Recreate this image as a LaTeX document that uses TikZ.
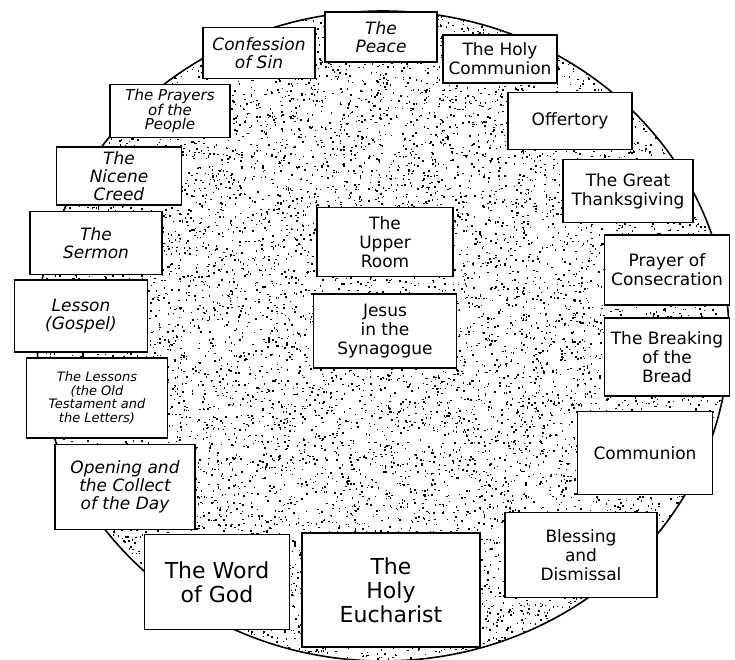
\documentclass[tikz,border=0pt]{standalone}
\usepackage{fontspec}
\setmainfont{DejaVu Sans}
\usetikzlibrary{positioning}

\begin{document}
\begin{tikzpicture}[x=1pt, y=-1pt]

% Define styles
\tikzstyle{card} = [rectangle, draw=black, fill=white, line width=1.6pt, align=center, inner sep=2pt, font=\fontsize{17}{19}\selectfont]
\tikzstyle{slanted} = [font=\fontsize{17}{18}\selectfont\itshape]
\tikzstyle{small} = [font=\fontsize{13}{13.5}\selectfont\itshape]
\tikzstyle{big} = [font=\fontsize{22}{24}\selectfont]

\useasboundingbox (0,0) rectangle (735,660);

% Stippled disc
\begin{scope}
\clip (0,0) rectangle (735,660);
\path[clip] (383,336) ellipse [x radius=346pt, y radius=325pt];
\pgfmathsetseed{42}
\foreach \i in {1,...,13000} {\fill ({383+346*rand},{336+325*rand}) rectangle ++(1.5,1.5);}
\end{scope}
\draw[line width=1.6pt] (383,336) ellipse [x radius=346pt, y radius=325pt];

% The Holy Communion side (right)
\node[card, slanted, minimum width=112, minimum height=50] (peace) at (381,37) {The\\Peace};
\node[card, minimum width=114, minimum height=48] (holycomm) at (500,59) {The Holy\\Communion};
\node[card, minimum width=124, minimum height=57] (offertory) at (570,121) {Offertory};
\node[card, minimum width=130, minimum height=63] (thanks) at (628,191) {The Great\\Thanksgiving};
\node[card, minimum width=125, minimum height=70] (consecration) at (667,270) {Prayer of\\Consecration};
\node[card, minimum width=125, minimum height=78] (breaking) at (667,357) {The Breaking\\of the\\Bread};
\node[card, minimum width=135, minimum height=83] (communion) at (645,453) {Communion};
\node[card, minimum width=152, minimum height=85] (blessing) at (581,555) {Blessing\\and\\Dismissal};
\node[card, big, minimum width=178, minimum height=114] (eucharist) at (391,590) {The\\Holy\\Eucharist};

% The Word of God side (left)
\node[card, big, minimum width=145, minimum height=95] (word) at (217,582) {The Word\\of God};
\node[card, slanted, minimum width=140, minimum height=85] (opening) at (125,487) {Opening and\\the Collect\\of the Day};
\node[card, small, minimum width=141, minimum height=80] (lessons) at (97,398) {The Lessons\\(the Old\\Testament and\\the Letters)};
\node[card, slanted, minimum width=133, minimum height=72] (gospel) at (81,316) {Lesson\\(Gospel)};
\node[card, slanted, minimum width=132, minimum height=63] (sermon) at (96,243) {The\\Sermon};
\node[card, slanted, minimum width=125, minimum height=58] (creed) at (119,176) {The\\Nicene\\Creed};
\node[card, small, font=\fontsize{15}{14}\selectfont\itshape, minimum width=120, minimum height=53] (prayers) at (170,111) {The Prayers\\of the\\People};
\node[card, slanted, minimum width=112, minimum height=51] (confession) at (259,53) {Confession\\of Sin};

% Centre
\node[card, minimum width=136, minimum height=69] (upper) at (385,242) {The\\Upper\\Room};
\node[card, below=16pt of upper, minimum width=143, minimum height=74] (synagogue) {Jesus\\in the\\Synagogue};

\end{tikzpicture}
\end{document}
